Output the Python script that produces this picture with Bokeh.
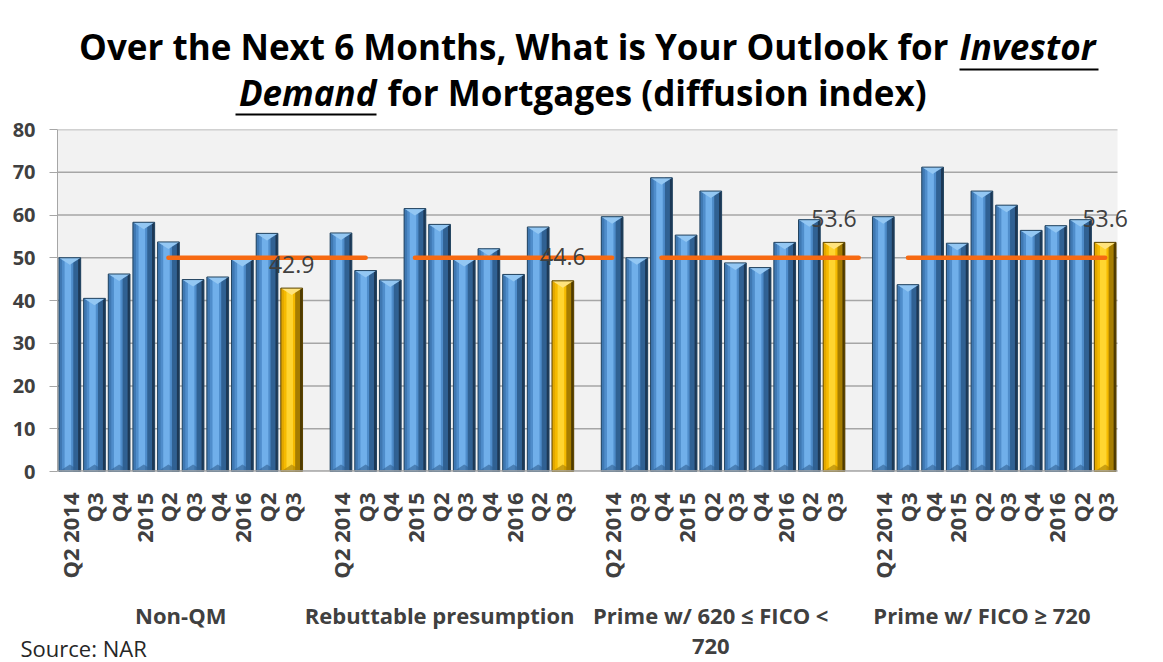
import math
from bokeh.plotting import figure
from bokeh.models import Range1d, FixedTicker
from bokeh.layouts import column
from bokeh.core.properties import value
from bokeh.embed import file_html
from bokeh.resources import INLINE

# ---------------- data ----------------
group_names = ["Non-QM", "Rebuttable presumption", "Prime w/ 620 ≤ FICO <\n720", "Prime w/ FICO ≥ 720"]
quarter_labels = ["Q2 2014", "Q3", "Q4", "2015", "Q2", "Q3", "Q4", "2016", "Q2", "Q3"]
non_qm = [50.0, 40.5, 46.2, 58.3, 53.7, 44.9, 45.5, 49.6, 55.7, 42.9]
rebuttable = [55.8, 47.0, 44.8, 61.5, 57.8, 49.6, 52.1, 46.1, 57.2, 44.6]
prime_620_720 = [59.6, 50.0, 68.7, 55.3, 65.6, 48.8, 47.7, 53.6, 58.9, 53.6]
prime_720 = [59.6, 43.7, 71.2, 53.4, 65.6, 62.3, 56.4, 57.5, 58.9, 53.6]
benchmark_value = 50
benchmark_start_slots = [5, 15, 25, 35]
benchmark_span = 8
y_ticks = [0, 10, 20, 30, 40, 50, 60, 70, 80]

title_line1 = "Over the Next 6 Months, What is Your Outlook for"
title_line1_emph = "Investor"
title_line2_emph = "Demand"
title_line2 = "for Mortgages (diffusion index)"
source_text = "Source: NAR"

series = [non_qm, rebuttable, prime_620_720, prime_720]

# ---------------- layout constants ----------------
W = 1163
TITLE_H = 116
BOTTOM_H = 72
FONT = "Open Sans"
AX_COLOR = "#A6A6A6"
TXT = "#404040"
PLOT_LEFT, PLOT_RIGHT = 57, 1117      # plot-area edges in px
PLOT_TOP, PLOT_BOTTOM = 129, 471
PLOT_H = PLOT_BOTTOM - PLOT_TOP
MAIN_H = 662 - TITLE_H - BOTTOM_H
FRAME_TOP_PAD = PLOT_TOP - TITLE_H

slots_per_group = len(quarter_labels) + 1
xs, tops, latest = [], [], []
for g, vals in enumerate(series):
    for i, v in enumerate(vals):
        xs.append(g * slots_per_group + i + 1)
        tops.append(v)
        latest.append(i == len(vals) - 1)
n_slots = xs[-1]
x0, x1 = 0.5, n_slots + 0.5
pitch = (PLOT_RIGHT - PLOT_LEFT) / (x1 - x0)
x_end_full = x1 + (W - PLOT_RIGHT) / pitch
x_start_full = x0 - PLOT_LEFT / pitch

# ---------------- title figure ----------------
tf = figure(width=W, height=TITLE_H, x_range=Range1d(0, W), y_range=Range1d(TITLE_H, 0),
            toolbar_location=None, output_backend="svg", title=None,
            x_axis_location=None, y_axis_location=None, min_border=0,
            outline_line_color=None, frame_align=False)
tf.grid.visible = False
TS = "35px"
L1_Y, L2_Y = 46, 92
SPLIT1, SPLIT2 = 948, 376
tf.text(x=[SPLIT1], y=[L1_Y], text=[title_line1], text_align="right", text_baseline="middle",
        text_font=value(FONT), text_font_style="bold", text_font_size=TS, text_color="black")
tf.text(x=[SPLIT1 + 11], y=[L1_Y], text=[title_line1_emph], text_align="left", text_baseline="middle",
        text_font=value(FONT), text_font_style="bold italic", text_font_size=TS, text_color="black")
tf.segment(x0=[SPLIT1 + 11], y0=[L1_Y + 23], x1=[SPLIT1 + 11 + 139], y1=[L1_Y + 23],
           line_color="black", line_width=2)
tf.text(x=[SPLIT2], y=[L2_Y], text=[title_line2_emph], text_align="right", text_baseline="middle",
        text_font=value(FONT), text_font_style="bold italic", text_font_size=TS, text_color="black")
tf.segment(x0=[SPLIT2 - 141], y0=[L2_Y + 22], x1=[SPLIT2], y1=[L2_Y + 22],
           line_color="black", line_width=2)
tf.text(x=[SPLIT2 + 11], y=[L2_Y], text=[title_line2], text_align="left", text_baseline="middle",
        text_font=value(FONT), text_font_style="bold", text_font_size=TS, text_color="black")

# ---------------- main figure ----------------
p = figure(width=W, height=MAIN_H, x_range=Range1d(x0, x_end_full), y_range=Range1d(0, 80),
           toolbar_location=None, output_backend="svg", title=None, frame_align=False,
           min_border_left=PLOT_LEFT, min_border_right=0, min_border_top=FRAME_TOP_PAD,
           min_border_bottom=MAIN_H - FRAME_TOP_PAD - PLOT_H)
p.background_fill_color = "white"
p.border_fill_color = "white"
p.outline_line_color = None
p.xgrid.visible = False
p.ygrid.visible = False

# plot area + gridlines
p.quad(left=[x0], right=[x1], bottom=[y_ticks[0]], top=[y_ticks[-1]], fill_color="#F2F2F2", line_color=None)
p.segment(x0=[x0] * len(y_ticks), y0=y_ticks, x1=[x1] * len(y_ticks), y1=y_ticks,
          line_color=AX_COLOR, line_width=1.3)

px_per_unit = PLOT_H / 80.0
w = 0.88
cap = 7 / px_per_unit

blue = dict(base="#4F8DCB", left="#3F78B2", hi="#70AFEA", shade="#306193", deep="#1C3856",
            cap="#93C7F3", bottom="#306193", edge="#24445F")
gold = dict(base="#F5BA00", left="#E3A800", hi="#FFD530", shade="#A67D00", deep="#4F3B00",
            cap="#FFE37D", bottom="#A67D00", edge="#5A4300")

strips = [("left", -0.5, -0.36), ("hi", -0.24, 0.06), ("shade", 0.16, 0.38), ("deep", 0.38, 0.5)]

for is_latest, pal in [(False, blue), (True, gold)]:
    bx = [x for x, l in zip(xs, latest) if l == is_latest]
    bt = [t for t, l in zip(tops, latest) if l == is_latest]
    p.vbar(x=bx, top=bt, width=w, bottom=0, fill_color=pal["base"], line_color=None)
    for key, a, b in strips:
        p.vbar(x=[x + (a + b) / 2 * w for x in bx], top=bt, width=(b - a) * w, bottom=0,
               fill_color=pal[key], line_color=None)
    p.patches(xs=[[x - w / 2, x + w / 2, x] for x in bx],
              ys=[[t, t, t - cap] for t in bt], fill_color=pal["cap"], line_color=None)
    p.patches(xs=[[x - w / 2, x + w / 2, x] for x in bx],
              ys=[[0, 0, cap] for t in bt], fill_color=pal["bottom"], fill_alpha=0.6, line_color=None)
    p.vbar(x=bx, top=bt, width=w, bottom=0, fill_alpha=0, line_color=pal["edge"], line_width=1)

# x axis line (only under the plot area)
p.segment(x0=[x0], y0=[0], x1=[x1], y1=[0], line_color=AX_COLOR, line_width=2.5)

# benchmark (50) line
p.segment(x0=benchmark_start_slots, y0=[benchmark_value] * len(benchmark_start_slots),
          x1=[s + benchmark_span for s in benchmark_start_slots],
          y1=[benchmark_value] * len(benchmark_start_slots),
          line_color="#F76A12", line_width=4.5, line_cap="round")

# data labels on latest quarter
lx = [x for x, l in zip(xs, latest) if l]
lt = [t for t, l in zip(tops, latest) if l]
p.text(x=lx, y=lt, text=[f"{t:.1f}" for t in lt], text_align="center", text_baseline="middle",
       y_offset=-24, text_font=value(FONT), text_font_size="23px", text_color=TXT)

# axes
p.yaxis.ticker = FixedTicker(ticks=y_ticks)
p.yaxis.axis_line_color = AX_COLOR
p.yaxis.major_tick_line_color = AX_COLOR
p.yaxis.major_tick_out = 8
p.yaxis.major_tick_in = 0
p.yaxis.minor_tick_line_color = None
p.yaxis.major_label_standoff = 14
p.yaxis.major_label_text_font = FONT
p.yaxis.major_label_text_font_style = "bold"
p.yaxis.major_label_text_font_size = "20px"
p.yaxis.major_label_text_color = TXT

p.xaxis.ticker = FixedTicker(ticks=xs)
p.xaxis.major_label_overrides = {x: quarter_labels[i % len(quarter_labels)] for i, x in enumerate(xs)}
p.xaxis.major_label_orientation = math.pi / 2
p.xaxis.axis_line_color = None
p.xaxis.major_tick_line_color = None
p.xaxis.minor_tick_line_color = None
p.xaxis.major_label_standoff = 15
p.xaxis.major_label_text_font = FONT
p.xaxis.major_label_text_font_style = "bold"
p.xaxis.major_label_text_font_size = "22px"
p.xaxis.major_label_text_color = TXT

# ---------------- bottom figure: group labels + source ----------------
bf = figure(width=W, height=BOTTOM_H, x_range=Range1d(x_start_full, x_end_full),
            y_range=Range1d(BOTTOM_H, 0), toolbar_location=None, output_backend="svg", title=None,
            x_axis_location=None, y_axis_location=None, min_border=0,
            outline_line_color=None, frame_align=False)
bf.grid.visible = False
gx, gy, gt = [], [], []
for g, name in enumerate(group_names):
    first = g * slots_per_group + 1
    last = first + len(quarter_labels) - 1
    start = first - (1 if g > 0 else 0)
    for k, line in enumerate(name.split("\n")):
        gx.append((start + last) / 2)
        gy.append(24 + 32 * k)
        gt.append(line)
bf.text(x=gx, y=gy, text=gt, text_align="center", text_baseline="middle",
        text_font=value(FONT), text_font_style="bold", text_font_size="22px", text_color=TXT)
bf.text(x=[x_start_full + 20 / pitch], y=[57], text=[source_text], text_align="left",
        text_baseline="middle", text_font=value(FONT), text_font_size="22px", text_color="#262626")

layout = column(tf, p, bf, spacing=0)
open("out.html", "w").write(file_html(layout, INLINE))
